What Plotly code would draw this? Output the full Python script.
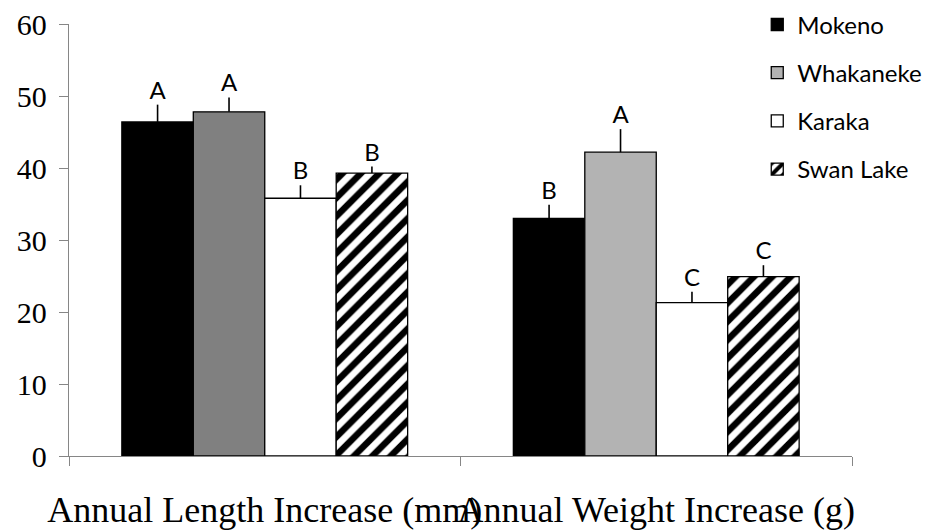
import plotly.graph_objects as go

categories = ["Annual Length Increase (mm)", "Annual Weight Increase (g)"]
series = ["Mokeno", "Whakaneke", "Karaka", "Swan Lake"]
values = {
    "Mokeno": [46.4, 33.0],
    "Whakaneke": [47.8, 42.2],
    "Karaka": [35.8, 21.3],
    "Swan Lake": [39.3, 24.9],
}
errors = {
    "Mokeno": [2.4, 1.9],
    "Whakaneke": [2.0, 3.2],
    "Karaka": [1.8, 1.5],
    "Swan Lake": [0.9, 1.6],
}
letters = {
    "Mokeno": ["A", "B"],
    "Whakaneke": ["A", "A"],
    "Karaka": ["B", "C"],
    "Swan Lake": ["B", "C"],
}
# per-category fill colours (Whakaneke differs between the two groups)
fills = {
    "Mokeno": ["#000000", "#000000"],
    "Whakaneke": ["#808080", "#b3b3b3"],
    "Karaka": ["#ffffff", "#ffffff"],
    "Swan Lake": ["#ffffff", "#ffffff"],
}
y_ticks = [0, 10, 20, 30, 40, 50, 60]

BARGAP = 0.27
AXIS_GRAY = "#868686"
SANS = "Lato, 'Open Sans', sans-serif"
SERIF = "'Liberation Serif', 'Times New Roman', serif"

fig = go.Figure()

for gi, name in enumerate(series):
    # split per category so each bar keeps its own fill; legend uses the last one
    for ci, cat in enumerate(categories):
        marker = dict(color=fills[name][ci], line=dict(color="black", width=1.3))
        if name == "Swan Lake":
            marker["pattern"] = dict(shape="/", fgcolor="black", bgcolor="white",
                                     size=13, solidity=0.5, fgopacity=1)
        fig.add_trace(go.Bar(
            x=[cat], y=[values[name][ci]], name=name,
            offsetgroup=str(gi), legendgroup=name,
            showlegend=(ci == len(categories) - 1),
            marker=marker,
            error_y=dict(type="data", symmetric=False, array=[errors[name][ci]],
                         arrayminus=[0], color="black", thickness=1.6, width=0),
        ))

for gi, name in enumerate(series):
    fig.add_trace(go.Scatter(
        x=categories, y=[v + e for v, e in zip(values[name], errors[name])],
        mode="text", text=letters[name], textposition="top center",
        textfont=dict(family=SANS, size=24, color="black"),
        showlegend=False, hoverinfo="skip", offsetgroup=str(gi),
    ))

fig.update_layout(
    width=927, height=531,
    margin=dict(l=69, r=75, t=24, b=75, autoexpand=False),
    paper_bgcolor="white", plot_bgcolor="white",
    barmode="group", bargap=BARGAP, bargroupgap=0,
    scattermode="group", scattergap=BARGAP,
    legend=dict(x=0.879, y=1.05, xanchor="left", yanchor="top",
                font=dict(family=SANS, size=24, color="black"),
                tracegroupgap=14, bgcolor="rgba(0,0,0,0)", itemwidth=30),
    showlegend=True,
)
fig.update_xaxes(
    type="category", categoryorder="array", categoryarray=categories,
    tickson="boundaries", ticks="outside", ticklen=9, tickcolor=AXIS_GRAY,
    showline=True, linecolor=AXIS_GRAY, linewidth=1.3, showgrid=False,
    tickfont=dict(family=SERIF, size=36, color="black"),
    tickangle=0, automargin=False,
    ticklabelstandoff=22,
)
fig.update_yaxes(
    range=[0, 60], tickvals=y_ticks, ticks="outside", ticklen=9, tickcolor=AXIS_GRAY,
    showline=True, linecolor=AXIS_GRAY, linewidth=1.3, showgrid=False, zeroline=False,
    tickfont=dict(family=SERIF, size=30, color="black"),
    automargin=False, ticklabelstandoff=6,
)

fig.write_html("out.html")
